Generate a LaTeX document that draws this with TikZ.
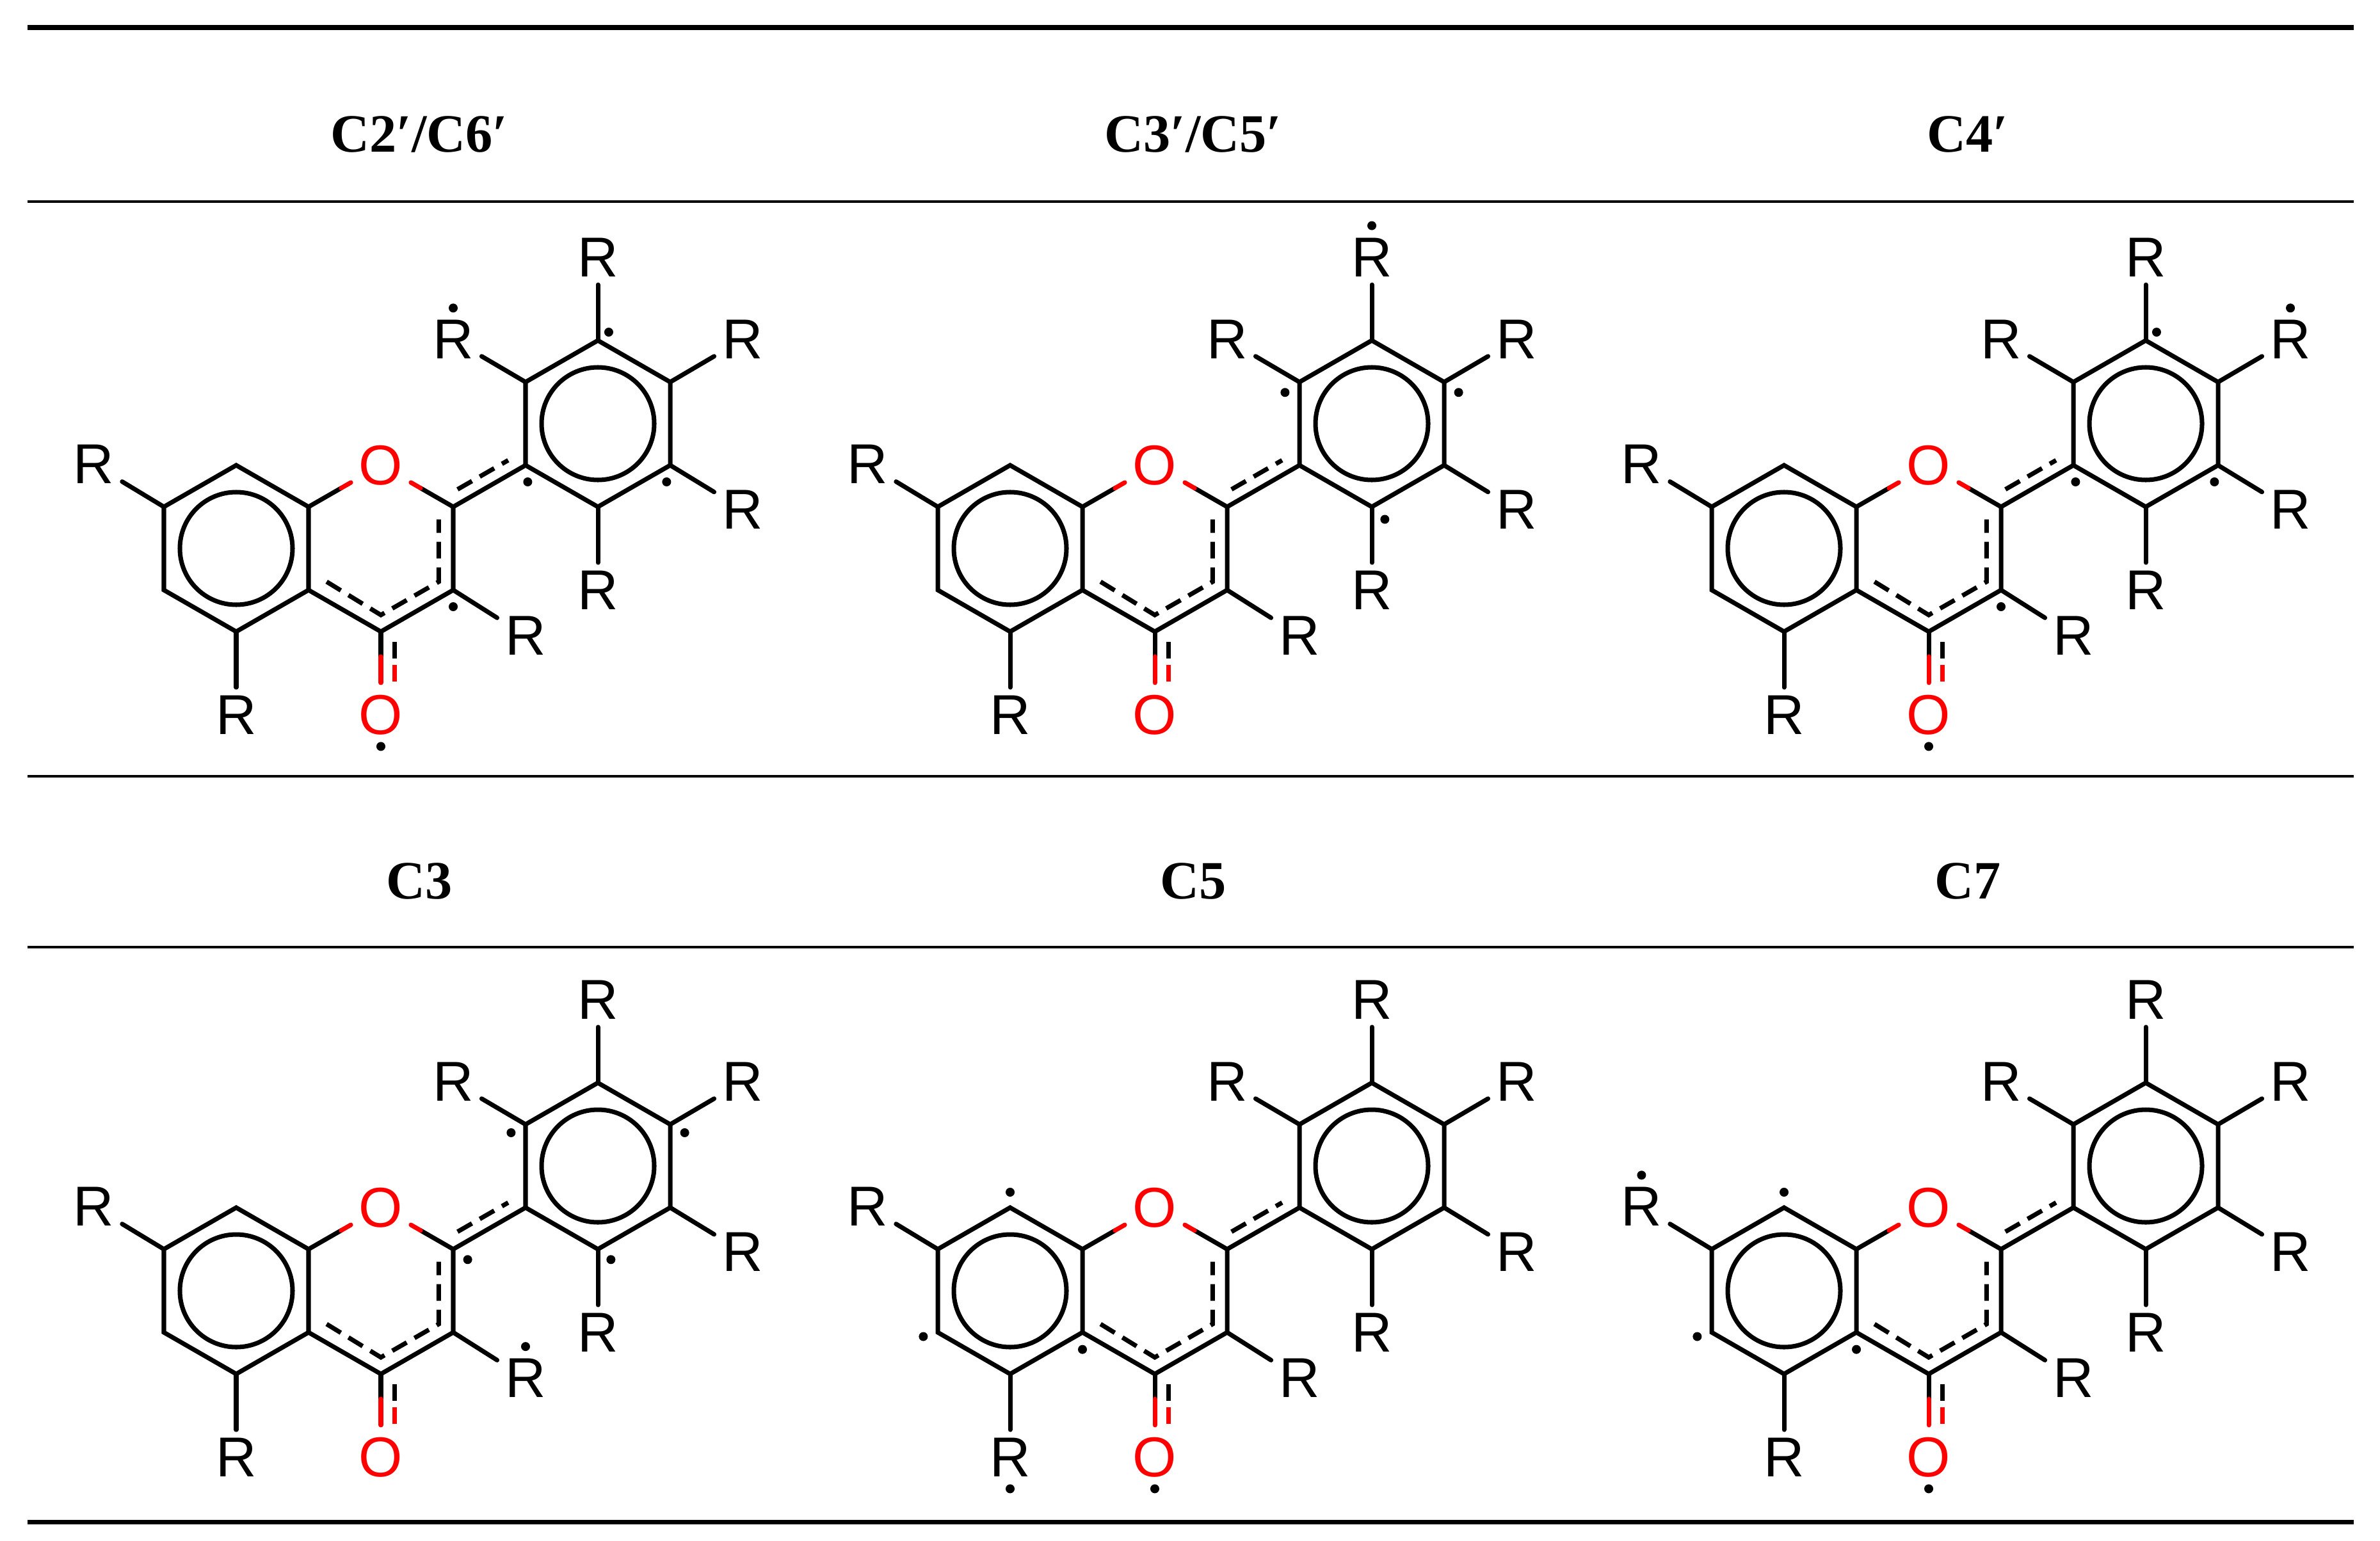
\documentclass[tikz,border=0pt]{standalone}
\usepackage{fontspec}
\setmainfont{Liberation Serif}
\newfontfamily\atomfont{Liberation Sans}
\usetikzlibrary{calc}

\tikzset{
	bond/.style={line width=2pt,line cap=round},
	dbond/.style={line width=2pt,dash pattern=on 0.26cm off 0.14cm},
	atom/.style={inner sep=0.12cm,font=\atomfont\fontsize{25}{28}\selectfont},
	oxy/.style={atom,text=red},
	head/.style={font=\fontsize{24}{28}\selectfont\bfseries},
	rad/.style={fill=black}
}

% flavone skeleton, unit x = half ring width, unit y = half ring side
\newcommand{\flavone}{%
	\coordinate (C8) at (0,2); \coordinate (C8a) at (1,1); \coordinate (C4a) at (1,-1);
	\coordinate (C5) at (0,-2); \coordinate (C6) at (-1,-1); \coordinate (C7) at (-1,1);
	\coordinate (C2) at (3,1); \coordinate (C3) at (3,-1); \coordinate (C4) at (2,-2);
	\coordinate (C1p) at (4,2); \coordinate (C2p) at (4,4); \coordinate (C3p) at (5,5);
	\coordinate (C4p) at (6,4); \coordinate (C5p) at (6,2); \coordinate (C6p) at (5,1);
	\node[oxy] (O1) at (2,2) {O};
	\node[oxy] (O4) at (2,-4) {O};
	\node[atom] (R7) at (-1.97,2.02) {R};
	\node[atom] (R5) at (0,-4) {R};
	\node[atom] (R3) at (4,-2.1) {R};
	\node[atom] (R2p) at (3,5.02) {R};
	\node[atom] (R3p) at (5,7) {R};
	\node[atom] (R4p) at (7,5.02) {R};
	\node[atom] (R5p) at (7,0.94) {R};
	\node[atom] (R6p) at (5,-1) {R};
	% rings
	\draw[bond] (C8) -- (C8a) -- (C4a) -- (C5) -- (C6) -- (C7) -- cycle;
	\draw[bond] (0,0) circle[radius=0.88cm];
	\draw[bond] (C4a) -- (C4) -- (C3) -- (C2) -- (C1p);
	\draw[bond] (C1p) -- (C2p) -- (C3p) -- (C4p) -- (C5p) -- (C6p) -- cycle;
	\draw[bond] (5,3) circle[radius=0.88cm];
	\draw[bond] (C8a) -- ($(C8a)!0.45!(O1)$);
	\draw[bond,red] ($(C8a)!0.45!(O1)$) -- (O1);
	\draw[bond] (C2) -- ($(C2)!0.45!(O1)$);
	\draw[bond,red] ($(C2)!0.45!(O1)$) -- (O1);
	% delocalised bonds
	\draw[dbond] (1.25,-0.8) -- (2,-1.6) -- (2.8,-0.8) -- (2.8,0.7);
	\draw[dbond] (3.06,1.42) -- (3.76,2.12);
	\draw[bond] (C4) -- (2,-2.6);
	\draw[bond,red] (2,-2.6) -- (2,-3.23);
	\draw[dbond] (2.19,-2.25) -- (2.19,-2.7);
	\draw[dbond,red] (2.19,-2.8) -- (2.19,-3.22);
	% substituents
	\draw[bond] (C7) -- (R7);
	\draw[bond] (C5) -- (R5);
	\draw[bond] (C3) -- (R3);
	\draw[bond] (C2p) -- (R2p);
	\draw[bond] (C3p) -- (R3p);
	\draw[bond] (C4p) -- (R4p);
	\draw[bond] (C5p) -- (R5p);
	\draw[bond] (C6p) -- (R6p);
}

\newcommand{\panel}[3]{%
	\begin{scope}[shift={(#1,#2)},x=1.13cm,y=0.65cm]
		\flavone
		\foreach \p in {#3} \fill[rad] \p circle[radius=0.07cm];
	\end{scope}
}

\begin{document}
\begin{tikzpicture}
	\useasboundingbox (0,0) rectangle (37.18,-24.08);

	% table rules
	\draw[line width=2pt] (0.43,-0.43) -- (36.77,-0.43);
	\draw[line width=1pt] (0.43,-3.15) -- (36.77,-3.15);
	\draw[line width=1pt] (0.43,-12.13) -- (36.77,-12.13);
	\draw[line width=1pt] (0.43,-14.80) -- (36.77,-14.80);
	\draw[line width=2pt] (0.43,-23.78) -- (36.77,-23.78);

	% headers
	\node[head] (h1) at (6.55,-2.10) {C2′/C6′};
	\node[head] (h2) at (18.64,-2.10) {C3′/C5′};
	\node[head] (h3) at (30.74,-2.10) {C4′};
	\node[head] (h4) at (6.55,-13.77) {C3};
	\node[head] (h5) at (18.64,-13.77) {C5};
	\node[head] (h6) at (30.74,-13.77) {C7};

	% structures
	\panel{3.69}{-8.57}{(3,5.78),(5.15,5.2),(4.03,1.6),(5.95,1.6),(3,-1.4),(2,-4.76)}
	\panel{15.78}{-8.57}{(5,7.76),(3.8,3.75),(6.2,3.75),(5.18,0.7)}
	\panel{27.87}{-8.57}{(7,5.78),(5.15,5.2),(4.03,1.6),(5.95,1.6),(3,-1.4),(2,-4.76)}
	\panel{3.69}{-20.17}{(3.8,3.8),(6.2,3.8),(3.2,0.75),(5.18,0.75),(4,-1.34)}
	\panel{15.78}{-20.17}{(0,2.37),(-1.2,-1.1),(1,-1.41),(0,-4.76),(2,-4.76)}
	\panel{27.87}{-20.17}{(-1.97,2.78),(0,2.37),(-1.2,-1.1),(1,-1.41),(2,-4.76)}
\end{tikzpicture}
\end{document}
